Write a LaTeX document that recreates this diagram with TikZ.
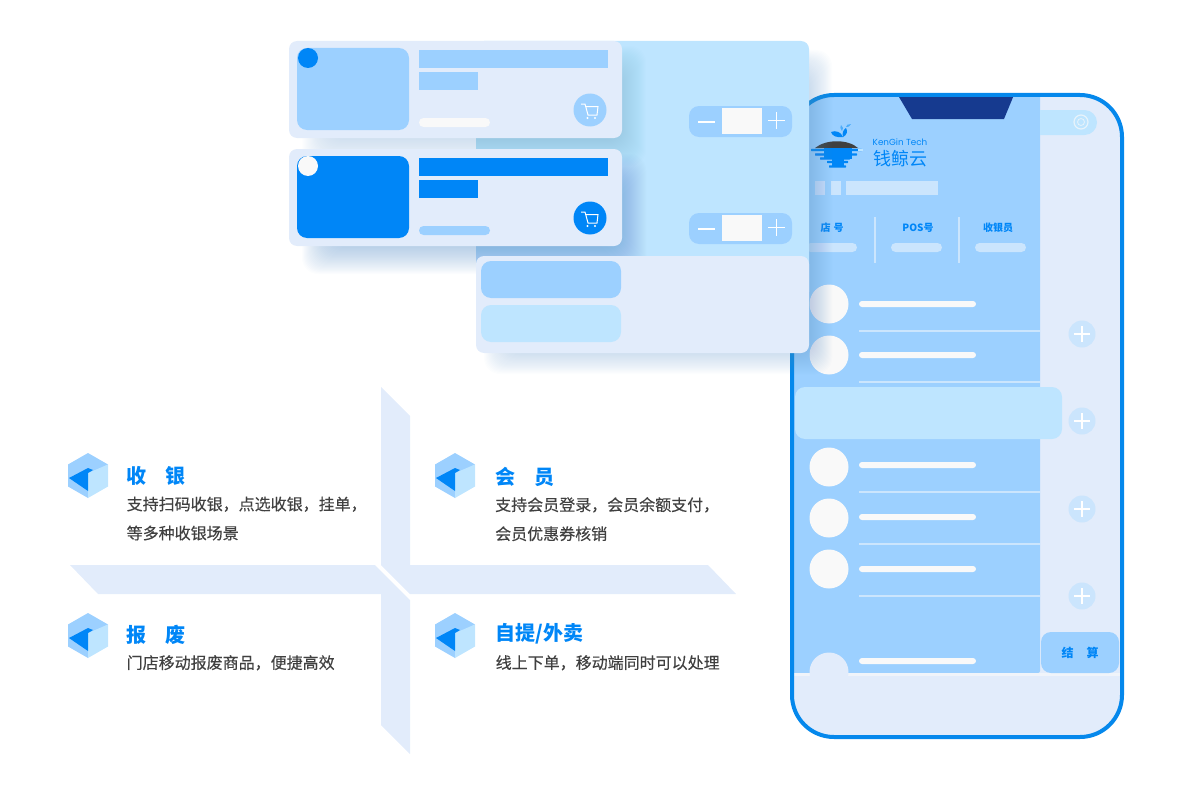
\documentclass[tikz,border=0pt]{standalone}
\usepackage{fontspec}
\setmainfont{Noto Sans CJK SC}
\newfontfamily\cjk{Noto Sans CJK SC}
\newfontfamily\cjkmed[FakeBold=0.25]{Noto Sans CJK SC}
\newfontfamily\logofont{Poppins}
\definecolor{deepblue}{HTML}{0086F7}
\definecolor{rimblue}{HTML}{0588EC}
\definecolor{midblue}{HTML}{9CD0FF}
\definecolor{skyblue}{HTML}{BEE5FF}
\definecolor{paleblue}{HTML}{E2ECFB}
\definecolor{hazeblue}{HTML}{CBE5FD}
\definecolor{notchblue}{HTML}{163A8F}
\definecolor{offwhite}{HTML}{F9F9F9}
\definecolor{shadowblue}{HTML}{5A90C8}
\definecolor{bodygrey}{HTML}{404040}
\newcommand{\softshadow}[5]{%
    \foreach \s in {-16,-15,...,16}
        \fill[shadowblue, opacity=#5, rounded corners=16pt] ({#1-\s},{#2-\s}) rectangle ({#3+\s},{#4+\s});}
\newcommand{\carticon}[2]{%
    \draw[white, line width=1pt] ({#1-9},{#2-6}) -- ({#1-5},{#2-6}) -- ({#1-2},{#2+5}) -- ({#1+7},{#2+5}) -- ({#1+8},{#2-3.5}) -- ({#1-4.5},{#2-3.5});
    \fill[white] ({#1-2.5},{#2+8}) circle (1.2) ({#1+5},{#2+8}) circle (1.2);}
\begin{document}
\begin{tikzpicture}[x=1pt, y=-1pt,
    title/.style = {anchor=west, inner sep=0pt, text=deepblue, font=\cjk\bfseries\fontsize{20}{24}\selectfont},
    body/.style = {anchor=north west, inner sep=0pt, align=left, text=bodygrey, font=\cjkmed\fontsize{16}{29}\selectfont},
    head/.style = {inner sep=0pt, text=deepblue, font=\cjk\bfseries\fontsize{10}{12}\selectfont},
    pillbar/.style = {fill=#1, rounded corners=3pt},
    plate/.style = {fill=#1, rounded corners=10pt}]
    \useasboundingbox (0,0) rectangle (1200,800);

    \fill[paleblue] (381,387) -- (410,416) -- (410,565) -- (708,565) -- (736,594) -- (410,594) -- (381,565) -- cycle;
    \fill[paleblue] (70,565) -- (375,565) -- (410,600) -- (410,754) -- (381,725) -- (381,594) -- (98,594) -- cycle;

    \foreach \cx/\cy in {88/453, 455/453, 88/613, 455/613} {
        \fill[midblue] (\cx,\cy) -- (\cx+20,\cy+11.5) -- (\cx,\cy+22) -- (\cx,\cy+45) -- (\cx-20,\cy+33.5) -- (\cx-20,\cy+11.5) -- cycle;
        \fill[skyblue] (\cx+20,\cy+11.5) -- (\cx+20,\cy+33.5) -- (\cx,\cy+45) -- (\cx,\cy+20) -- cycle;
        \fill[deepblue] (\cx-19,\cy+25) -- (\cx,\cy+15) -- (\cx+5,\cy+17) -- (\cx,\cy+20) -- (\cx,\cy+38) -- cycle;
    }

    \node[title] (tCash) at (126.5,475.5) {收\hspace{19pt}银};
    \node[body] (bCash) at (126.5,496.5) {支持扫码收银，点选收银，挂单，\\等多种收银场景};
    \node[title] (tMember) at (495,476.5) {会\hspace{19pt}员};
    \node[body] (bMember) at (495,497) {支持会员登录，会员余额支付，\\会员优惠券核销};
    \node[title] (tScrap) at (126.5,634.5) {报\hspace{19pt}废};
    \node[body] (bScrap) at (126.5,655) {门店移动报废商品，便捷高效};
    \node[title] (tPickup) at (495.5,633.5) {自提/外卖};
    \node[body] (bPickup) at (495.5,655) {线上下单，移动端同时可以处理};

    \fill[paleblue, rounded corners=42pt] (792,95) rectangle (1122,737);
    \begin{scope}
        \clip[rounded corners=40pt] (794,97) rectangle (1120,735);
        \fill[midblue, rounded corners=2pt] (780,80) rectangle (1040,673);
        \fill[offwhite!60!paleblue] (794,673) rectangle (1120,676);
        \fill[notchblue] (899,90) -- (1016,90) -- (1004,119) -- (912,119) -- (899,97) -- cycle;
        \fill[skyblue, rounded corners=12.5pt] (1020,110) rectangle (1097,135);
        \fill[midblue] (1020,105) rectangle (1040,140);
        \fill[paleblue] (829,672) circle (19.5);
    \end{scope}
    \draw[rimblue, line width=4pt, rounded corners=42pt] (792,95) rectangle (1122,737);
    \draw[offwhite!70!skyblue, line width=1.2pt] (1081,122) circle (7);
    \draw[offwhite!70!skyblue, line width=0.8pt] (1081,122) circle (3.5);

    \fill[deepblue] (831,132) .. controls (836,130) and (841,132) .. (843,137) .. controls (837,138) and (832,136) .. (831,132) -- cycle;
    \fill[deepblue] (843,137) .. controls (842,133) and (843,130) .. (846,128) .. controls (848,131) and (847,135) .. (843,137) -- cycle;
    \fill[deepblue!60!skyblue] (842,131) .. controls (840,129) and (840,127) .. (841,125) .. controls (843,127) and (844,129) .. (842,131) -- cycle;
    \fill[deepblue!60!skyblue] (846,127) .. controls (846,125) and (848,124) .. (851,124) .. controls (850,126) and (848,128) .. (846,127) -- cycle;
    \fill[bodygrey] (815,148) .. controls (826,139) and (848,139) .. (858,148) -- cycle;
    \fill[deepblue] (824,148) rectangle (852,159);
    \fill[deepblue] (832,159) rectangle (844,166);
    \foreach \y/\xa/\xb in {150/811/862, 154.5/815/857, 158.5/820/850, 162/827/848, 166.5/829/846}
        \fill[deepblue, rounded corners=0.5pt] (\xa,\y-1.1) rectangle (\xb,\y+1.1);
    \fill[skyblue] (858,149) rectangle (863,151);
    \node[inner sep=0pt, text=deepblue, font=\logofont\fontsize{8.8}{10}\selectfont] (logoEn) at (900,142) {KenGin Tech};
    \node[inner sep=0pt, text=deepblue, font=\cjk\fontsize{18}{20}\selectfont] (logoCn) at (900,158.5) {钱鲸云};

    \foreach \xa/\xb in {815/825, 831/841, 846/938}
        \fill[hazeblue] (\xa,181) rectangle (\xb,195);
    \node[head] (shopNo) at (832,227.5) {店\hspace{3pt}号};
    \node[head] (posNo) at (918,227.5) {POS号};
    \node[head] (cashier) at (998,227.5) {收银员};
    \foreach \xa/\xb in {806/857, 891/942, 975/1026}
        \fill[hazeblue, rounded corners=4.5pt] (\xa,243) rectangle (\xb,252);
    \foreach \x in {875,959}
        \fill[hazeblue] (\x-1,217) rectangle (\x+1,263);

    \foreach \cy/\ly/\sy in {304/304/330.5, 355/355/381.5, 467/465/491.5, 518/517/543.5, 569/569/595.5} {
        \fill[offwhite] (829,\cy) circle (19.5);
        \fill[pillbar=offwhite] (859,\ly-3) rectangle (976,\ly+3);
        \fill[hazeblue] (859,\sy-1) rectangle (1040,\sy+1);
    }
    \fill[pillbar=offwhite] (859,658) rectangle (976,664);
    \fill[plate=skyblue] (795,387) rectangle (1062,439);
    \foreach \py in {334,421,509,596} {
        \fill[hazeblue] (1082,\py) circle (13.5);
        \draw[white, line width=1.1pt] (1074,\py) -- (1090,\py) (1082,\py-8) -- (1082,\py+8);
    }
    \fill[plate=midblue] (1041,632) rectangle (1119,673);
    \node[inner sep=0pt, text=deepblue, font=\cjk\bfseries\fontsize{12}{14}\selectfont] (payBtn) at (1080,653) {结\hspace{13pt}算};

    \softshadow{500}{66}{816}{358}{0.016}
    \fill[skyblue, rounded corners=8pt] (476,41) rectangle (809,300);
    \foreach \sy in {106,213} {
        \fill[plate=midblue] (689,\sy) rectangle (792,\sy+31);
        \fill[offwhite] (722,\sy+2) rectangle (762,\sy+28);
        \draw[white, line width=1.5pt] (698,\sy+16) -- (715,\sy+16) (768,\sy+14.5) -- (785,\sy+14.5) (776.5,\sy+6) -- (776.5,\sy+23);
    }
    \softshadow{318}{62}{630}{150}{0.012}
    \softshadow{318}{170}{630}{258}{0.018}
    \fill[paleblue, rounded corners=8pt] (476,256) rectangle (809,353);
    \fill[plate=midblue] (481,261) rectangle (621,298);
    \fill[plate=skyblue] (481,305) rectangle (621,342);

    \fill[paleblue, rounded corners=8pt] (289,41) rectangle (622,138);
    \fill[plate=midblue] (297,48) rectangle (409,130);
    \fill[deepblue] (308,58) circle (10);
    \fill[midblue] (419,50) rectangle (608,68);
    \fill[midblue] (419,72) rectangle (478,90);
    \fill[offwhite, rounded corners=4.5pt] (419,118) rectangle (490,127);
    \fill[midblue] (590,110) circle (16.5);
    \carticon{590}{110}

    \fill[paleblue, rounded corners=8pt] (289,149) rectangle (622,246);
    \fill[plate=deepblue] (297,156) rectangle (409,238);
    \fill[offwhite] (308,166) circle (10);
    \fill[deepblue] (419,158) rectangle (608,176);
    \fill[deepblue] (419,180) rectangle (478,198);
    \fill[midblue, rounded corners=4.5pt] (419,226) rectangle (490,235);
    \fill[deepblue] (590,218) circle (16.5);
    \carticon{590}{218}
\end{tikzpicture}
\end{document}
